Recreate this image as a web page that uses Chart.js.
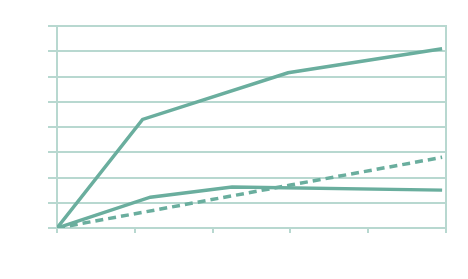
<!DOCTYPE html>
<html>
<head>
<meta charset="utf-8">
<script src="https://cdn.jsdelivr.net/npm/chart.js@4"></script>
<style>
  body { margin: 0; background: #fff; }
  canvas { display: block; }
</style>
</head>
<body>
<canvas id="myChart" width="468" height="279"></canvas>
<script>
// values (x in category units 0..5, y in gridline units 0..8)
const xTop = [0, 1.1, 2.97, 4.95];
const yTop = [0, 4.3, 6.15, 7.1];
const xLow = [0, 1.2, 2.25, 4.95];
const yLow = [0, 1.22, 1.62, 1.5];
const xDash = [0, 1.1, 3.0, 4.95];
const yDash = [0, 0.62, 1.7, 2.8];

const lineColor = '#6aae9e';
const gridColor = '#b8d8d0';

function pts(xs, ys) {
  return xs.map((x, i) => ({ x: x, y: ys[i] }));
}

const dataSource = {
  datasets: [
    { data: pts(xTop, yTop), borderColor: lineColor, borderWidth: 3.5 },
    { data: pts(xLow, yLow), borderColor: lineColor, borderWidth: 3.5 },
    { data: pts(xDash, yDash), borderColor: lineColor, borderWidth: 3.5, borderDash: [8, 5] }
  ]
};

const config = {
  type: 'scatter',
  data: dataSource,
  options: {
    responsive: false,
    animation: false,
    showLine: true,
    elements: { point: { radius: 0 }, line: { tension: 0 } },
    layout: { padding: { left: 48, top: 26, right: 22, bottom: 46 } },
    plugins: { legend: { display: false }, tooltip: { enabled: false } },
    scales: {
      x: {
        type: 'linear', min: 0, max: 5,
        ticks: { display: false, stepSize: 1 },
        grid: { drawOnChartArea: false, color: gridColor, lineWidth: 2, tickLength: 5 },
        border: { color: gridColor, width: 2 }
      },
      y: {
        min: 0, max: 8,
        ticks: { display: false, stepSize: 1 },
        grid: { color: gridColor, lineWidth: 2, tickLength: 9 },
        border: { color: gridColor, width: 2 }
      },
      y2: {
        position: 'right', min: 0, max: 8,
        ticks: { display: false },
        grid: { drawOnChartArea: false, drawTicks: false },
        border: { color: gridColor, width: 2 }
      }
    }
  }
};

const myChart = new Chart(document.getElementById('myChart'), config);
</script>
</body>
</html>
